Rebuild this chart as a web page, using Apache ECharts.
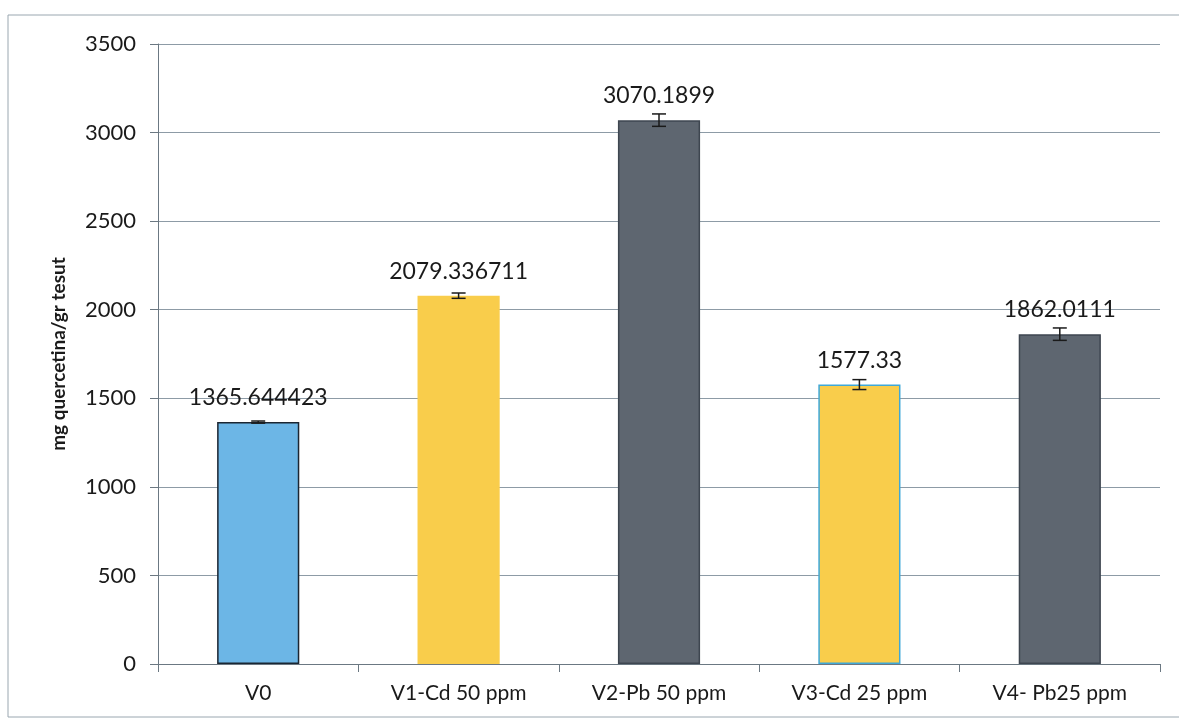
<!DOCTYPE html>
<html lang="en">
<head>
    <meta charset="UTF-8">
    <title>Chart</title>
    <script src="https://cdn.jsdelivr.net/npm/echarts@6/dist/echarts.min.js"></script>
    <style>
        html, body { margin: 0; padding: 0; background: #fff; }
    </style>
</head>
<body>
    <div id="demo1" style="width: 1179px;height: 727px;"></div>
    <script>
        // categories and values
        const categories = ['V0', 'V1-Cd 50 ppm', 'V2-Pb 50 ppm', 'V3-Cd 25 ppm', 'V4- Pb25 ppm'];
        const values = [1365.644423, 2079.336711, 3070.1899, 1577.33, 1862.0111];
        const labels = ['1365.644423', '2079.336711', '3070.1899', '1577.33', '1862.0111'];
        const errors = [6, 15, 35, 28, 35];
        const barColors = ['#6CB6E6', '#F9CD4B', '#5E6670', '#F9CD4B', '#5E6670'];
        const barBorders = ['#1B2632', '#F9CD4B', '#3E4650', '#3FA8D8', '#3E4650'];
        const yTicks = [0, 500, 1000, 1500, 2000, 2500, 3000, 3500];

        let myChart = echarts.init(document.getElementById('demo1'));

        let option = {
            backgroundColor: '#fff',
            animation: false,
            textStyle: { fontFamily: 'Lato' },
            graphic: [{
                type: 'rect',
                shape: { x: 8, y: 15, width: 1190, height: 702 },
                style: { fill: 'none', stroke: '#9aa7b0', lineWidth: 1 }
            }],
            grid: { left: 158, right: 19, top: 44, bottom: 63 },
            xAxis: {
                type: 'category',
                data: categories,
                axisLine: { lineStyle: { color: '#6b7882', width: 1 } },
                axisTick: { show: true, length: 8, lineStyle: { color: '#6b7882' } },
                axisLabel: { color: '#1a1a1a', fontSize: 21, margin: 19 }
            },
            yAxis: {
                type: 'value',
                min: yTicks[0],
                max: yTicks[yTicks.length - 1],
                interval: 500,
                name: 'mg quercetina/gr tesut',
                nameLocation: 'middle',
                nameGap: 90,
                nameTextStyle: { color: '#1a1a1a', fontSize: 19, fontWeight: 'bold' },
                axisLine: { show: true, lineStyle: { color: '#6b7882', width: 1 } },
                axisTick: { show: true, length: 8, lineStyle: { color: '#6b7882' } },
                axisLabel: { color: '#1a1a1a', fontSize: 22, margin: 22, formatter: v => String(v) },
                splitLine: { lineStyle: { color: '#8d9ba6', width: 1 } }
            },
            series: [{
                type: 'bar',
                barWidth: '41%',
                data: values.map((v, i) => ({
                    value: v,
                    itemStyle: { color: barColors[i], borderColor: barBorders[i], borderWidth: 1.5 }
                })),
                label: {
                    show: true,
                    position: 'top',
                    distance: 13,
                    color: '#1a1a1a',
                    fontSize: 23,
                    formatter: p => labels[p.dataIndex]
                },
                z: 2
            }, {
                // error bars
                type: 'custom',
                data: values.map((v, i) => [i, v - errors[i], v + errors[i]]),
                renderItem: function (params, api) {
                    const lo = api.coord([api.value(0), api.value(1)]);
                    const hi = api.coord([api.value(0), api.value(2)]);
                    const w = 7;
                    const st = { stroke: '#1a1a1a', lineWidth: 1.5 };
                    return {
                        type: 'group',
                        children: [
                            { type: 'line', shape: { x1: lo[0], y1: lo[1], x2: hi[0], y2: hi[1] }, style: st },
                            { type: 'line', shape: { x1: lo[0] - w, y1: lo[1], x2: lo[0] + w, y2: lo[1] }, style: st },
                            { type: 'line', shape: { x1: hi[0] - w, y1: hi[1], x2: hi[0] + w, y2: hi[1] }, style: st }
                        ]
                    };
                },
                z: 3
            }]
        };

        myChart.setOption(option);
    </script>
</body>
</html>
